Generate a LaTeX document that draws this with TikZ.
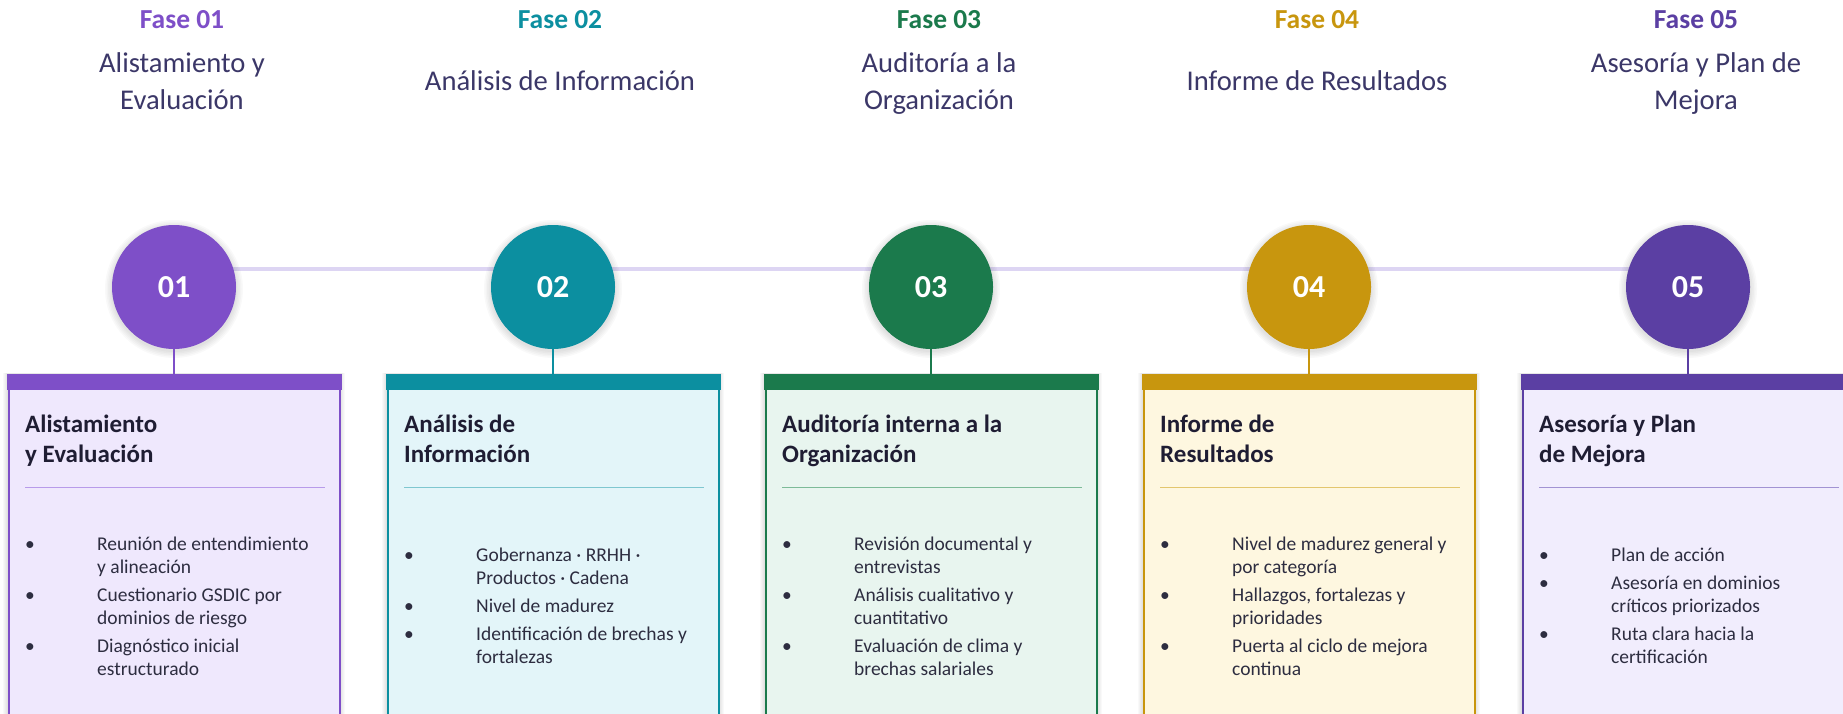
\documentclass[tikz,border=0pt]{standalone}
\usepackage{fontspec}
\setmainfont{Carlito}
\usetikzlibrary{backgrounds}
\definecolor{cA}{HTML}{7E4FC8}
\definecolor{cB}{HTML}{0C8FA0}
\definecolor{cC}{HTML}{1B7A4C}
\definecolor{cD}{HTML}{C8960E}
\definecolor{cE}{HTML}{5B3FA3}
\definecolor{fA}{HTML}{EFE8FD}
\definecolor{fB}{HTML}{E3F5F9}
\definecolor{fC}{HTML}{E8F5EF}
\definecolor{fD}{HTML}{FEF7E0}
\definecolor{fE}{HTML}{F1EDFD}
\definecolor{sA}{HTML}{B89BEA}
\definecolor{sB}{HTML}{7FC7D0}
\definecolor{sC}{HTML}{7DBB98}
\definecolor{sD}{HTML}{E3C66E}
\definecolor{sE}{HTML}{A293D3}
\definecolor{tline}{HTML}{DDD5F3}
\definecolor{hdtext}{HTML}{3B3768}
\definecolor{tttext}{HTML}{1F1D33}
\definecolor{bltext}{HTML}{2D2D40}
\tikzset{
  fasehd/.style={anchor=base, inner sep=0pt, font=\fontsize{27.5}{27.5}\selectfont\bfseries},
  subhd/.style={anchor=base, inner sep=0pt, align=center, text=hdtext, font=\fontsize{28.6}{37}\selectfont},
  numcircle/.style={circle, minimum size=124pt, inner sep=0pt, text=white,
     font=\fontsize{32}{32}\selectfont\bfseries},
  cardbox/.style={rectangle, minimum width=331pt, minimum height=400pt, anchor=north,
     line width=2pt, inner sep=0pt},
  cardtitle/.style={anchor=base west, inner sep=0pt, align=left, text=tttext,
     font=\fontsize{25}{30}\selectfont\bfseries},
  bullets/.style={anchor=west, inner sep=0pt, text=bltext, font=\fontsize{19.5}{23}\selectfont},
  linkline/.style={line width=2pt},
  softshade/.style={fill=black, opacity=0.025}
}
\newcommand\phasecard[7]{%
  \foreach \r in {1,2,3,4,5}{\fill[softshade] ({#2-166-\r},{374-\r*0.3}) rectangle ({#2+166+\r},740);}
  \node[cardbox, draw=#3, fill=#4] (k#1) at (#2,375) {};
  \fill[#3] ([xshift=-1pt,yshift=1pt]k#1.north west) rectangle ([xshift=1pt,yshift=-15pt]k#1.north east);
  \node[cardtitle] (t#1) at ({#2-149},462) {#6};
  \draw[#5, line width=1pt] ({#2-149},487) -- ({#2+151},487);
  \node[bullets] (b#1) at ({#2-149},608) {\begin{tabular}{@{}p{72pt}@{}l@{}}#7\end{tabular}};
}
\newcommand\circshade[1]{%
  \foreach \r in {63,64.5,66,67.5,69}{\fill[softshade] ([yshift=-2pt]#1.center) circle (\r);}
}
\begin{document}
\begin{tikzpicture}[x=1pt,y=-1pt]
\clip (0,0) rectangle (1843,714);

% headers
\node[fasehd, text=cA] (h1) at (182,29) {Fase 01};
\node[subhd] (g1) at (182,110) {Alistamiento y\\Evaluación};
\node[fasehd, text=cB] (h2) at (560,29) {Fase 02};
\node[subhd] (g2) at (560,91) {Análisis de Información};
\node[fasehd, text=cC] (h3) at (939,29) {Fase 03};
\node[subhd] (g3) at (939,110) {Auditoría a la\\Organización};
\node[fasehd, text=cD] (h4) at (1317,29) {Fase 04};
\node[subhd] (g4) at (1317,91) {Informe de Resultados};
\node[fasehd, text=cE] (h5) at (1696,29) {Fase 05};
\node[subhd] (g5) at (1696,110) {Asesoría y Plan de\\Mejora};

% cards
\phasecard{1}{174}{cA}{fA}{sA}{Alistamiento\\y Evaluación}{%
 \textbullet & Reunión de entendimiento\\ & y alineación\\[5pt]
 \textbullet & Cuestionario GSDIC por\\ & dominios de riesgo\\[5pt]
 \textbullet & Diagnóstico inicial\\ & estructurado}
\phasecard{2}{553}{cB}{fB}{sB}{Análisis de\\Información}{%
 \textbullet & Gobernanza · RRHH ·\\ & Productos · Cadena\\[5pt]
 \textbullet & Nivel de madurez\\[5pt]
 \textbullet & Identificación de brechas y\\ & fortalezas}
\phasecard{3}{931}{cC}{fC}{sC}{Auditoría interna a la\\Organización}{%
 \textbullet & Revisión documental y\\ & entrevistas\\[5pt]
 \textbullet & Análisis cualitativo y\\ & cuantitativo\\[5pt]
 \textbullet & Evaluación de clima y\\ & brechas salariales}
\phasecard{4}{1309}{cD}{fD}{sD}{Informe de\\Resultados}{%
 \textbullet & Nivel de madurez general y\\ & por categoría\\[5pt]
 \textbullet & Hallazgos, fortalezas y\\ & prioridades\\[5pt]
 \textbullet & Puerta al ciclo de mejora\\ & continua}
\phasecard{5}{1688}{cE}{fE}{sE}{Asesoría y Plan\\de Mejora}{%
 \textbullet & Plan de acción\\[5pt]
 \textbullet & Asesoría en dominios\\ & críticos priorizados\\[5pt]
 \textbullet & Ruta clara hacia la\\ & certificación}

% circles
\node[numcircle, fill=cA] (n1) at (174,287) {01};
\node[numcircle, fill=cB] (n2) at (553,287) {02};
\node[numcircle, fill=cC] (n3) at (931,287) {03};
\node[numcircle, fill=cD] (n4) at (1309,287) {04};
\node[numcircle, fill=cE] (n5) at (1688,287) {05};

% connectors
\draw[linkline, cA] (n1) -- (k1);
\draw[linkline, cB] (n2) -- (k2);
\draw[linkline, cC] (n3) -- (k3);
\draw[linkline, cD] (n4) -- (k4);
\draw[linkline, cE] (n5) -- (k5);

\begin{scope}[on background layer]
\fill[white] (0,0) rectangle (1843,714);
\draw[tline, line width=4pt] ([yshift=18pt]n1.center) -- ([yshift=18pt]n5.center);
\circshade{n1}\circshade{n2}\circshade{n3}\circshade{n4}\circshade{n5}
\end{scope}
\end{tikzpicture}
\end{document}
